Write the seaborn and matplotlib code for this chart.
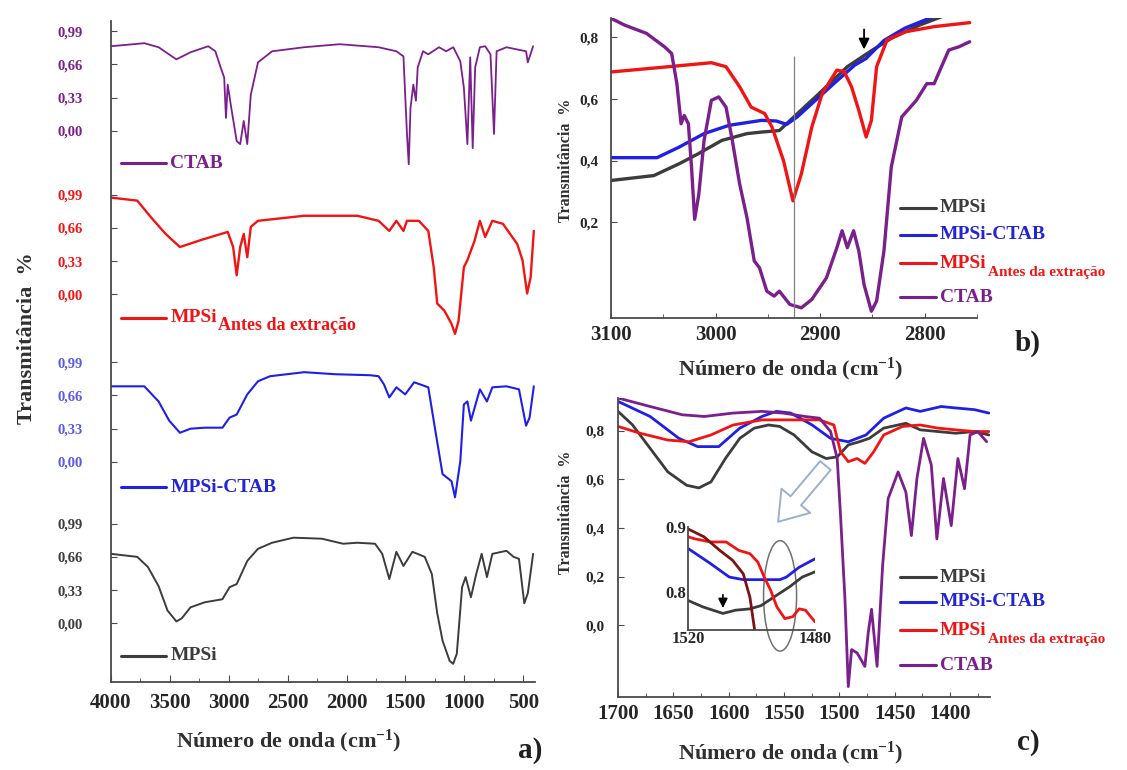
import numpy as np
import matplotlib
matplotlib.use("Agg")
import matplotlib.pyplot as plt
import seaborn as sns
from matplotlib.patches import Ellipse
from matplotlib.ticker import MultipleLocator

# ------------------------------------------------------------
# data (wavenumber in cm-1, transmittance)
# ------------------------------------------------------------

# panel a) full range, one trace per sample
a_mpsi_wn = [4000, 3777, 3687, 3596, 3521, 3445, 3400, 3325, 3204, 3054, 2993, 2933, 2843, 2752, 2632,
             2451, 2210, 2029, 1908, 1758, 1697, 1637, 1577, 1517, 1441, 1336, 1276, 1230, 1185, 1125,
             1095, 1064, 1019, 989, 944, 899, 853, 808, 762, 642, 582, 536, 491, 461, 416]
a_mpsi_t = [0.69, 0.66, 0.56, 0.37, 0.13, 0.02, 0.05, 0.16, 0.21, 0.24, 0.36, 0.39, 0.62, 0.74, 0.80,
            0.85, 0.84, 0.79, 0.80, 0.79, 0.69, 0.44, 0.71, 0.57, 0.71, 0.66, 0.49, 0.10, -0.17, -0.37,
            -0.40, -0.30, 0.36, 0.46, 0.26, 0.49, 0.69, 0.46, 0.69, 0.72, 0.66, 0.64, 0.20, 0.30, 0.69]

a_ctabmpsi_wn = [4000, 3717, 3596, 3506, 3415, 3325, 3204, 3054, 2993, 2933, 2843, 2752, 2650, 2360, 2100,
                 1800, 1728, 1683, 1637, 1577, 1502, 1426, 1306, 1246, 1185, 1109, 1079, 1034, 1004, 974,
                 944, 868, 808, 762, 642, 536, 476, 446, 410]
a_ctabmpsi_t = [0.75, 0.75, 0.60, 0.41, 0.29, 0.33, 0.34, 0.34, 0.44, 0.47, 0.67, 0.80, 0.85, 0.89, 0.87,
                0.86, 0.85, 0.77, 0.64, 0.74, 0.67, 0.79, 0.74, 0.31, -0.12, -0.19, -0.35, 0.01, 0.57, 0.60,
                0.41, 0.72, 0.60, 0.74, 0.75, 0.72, 0.36, 0.44, 0.75]

a_antes_wn = [4000, 3777, 3657, 3536, 3415, 3235, 3009, 2963, 2933, 2903, 2873, 2843, 2813, 2752, 2360,
              1908, 1728, 1637, 1577, 1517, 1487, 1386, 1306, 1260, 1230, 1170, 1109, 1079, 1049, 1004,
              974, 914, 868, 823, 762, 672, 551, 506, 467, 437, 410]
a_antes_t = [0.96, 0.93, 0.76, 0.60, 0.47, 0.54, 0.62, 0.47, 0.19, 0.47, 0.60, 0.37, 0.67, 0.73, 0.78,
             0.78, 0.73, 0.63, 0.73, 0.63, 0.73, 0.73, 0.63, 0.27, -0.09, -0.16, -0.29, -0.39, -0.26, 0.27,
             0.34, 0.53, 0.73, 0.57, 0.73, 0.70, 0.50, 0.34, 0.01, 0.17, 0.63]

a_ctab_wn = [4000, 3717, 3596, 3445, 3325, 3174, 3114, 3069, 3039, 3024, 3009, 2979, 2933, 2903, 2873,
             2843, 2813, 2752, 2632, 2360, 2059, 1728, 1577, 1517, 1487, 1472, 1457, 1433, 1411, 1396,
             1351, 1306, 1215, 1155, 1094, 1034, 1004, 974, 950, 929, 908, 868, 823, 778, 748,
             726, 642, 476, 461, 416]
a_ctab_t = [0.84, 0.87, 0.83, 0.71, 0.78, 0.84, 0.79, 0.63, 0.53, 0.13, 0.46, 0.23, -0.10, -0.13, 0.10,
            -0.13, 0.36, 0.68, 0.79, 0.83, 0.86, 0.83, 0.79, 0.74, -0.03, -0.33, 0.23, 0.46, 0.30, 0.63,
            0.79, 0.76, 0.83, 0.79, 0.83, 0.69, 0.43, -0.13, 0.73, -0.17, 0.63, 0.83, 0.84, 0.76, -0.03,
            0.79, 0.83, 0.79, 0.68, 0.84]

# panel b) C-H stretching region
b_mpsi_wn = [3100, 3059, 3035, 3018, 2994, 2970, 2956, 2939, 2929, 2915, 2901, 2874, 2850, 2832, 2805, 2784, 2775]
b_mpsi_t = [0.336, 0.352, 0.39, 0.42, 0.466, 0.488, 0.493, 0.498, 0.53, 0.574, 0.618, 0.705, 0.759, 0.797,
            0.84, 0.867, 0.88]

b_ctabmpsi_wn = [3100, 3056, 3035, 3011, 2987, 2956, 2942, 2932, 2922, 2908, 2887, 2867, 2856, 2839, 2819, 2784]
b_ctabmpsi_t = [0.41, 0.41, 0.444, 0.488, 0.515, 0.531, 0.529, 0.518, 0.542, 0.585, 0.65, 0.71, 0.732, 0.79,
                0.83, 0.878]

b_antes_wn = [3100, 3045, 3004, 2990, 2977, 2966, 2953, 2946, 2935, 2926, 2918, 2908, 2898, 2884, 2877,
              2870, 2863, 2856, 2851, 2846, 2836, 2819, 2791, 2757]
b_antes_t = [0.688, 0.705, 0.718, 0.705, 0.64, 0.574, 0.553, 0.509, 0.40, 0.27, 0.357, 0.509, 0.618, 0.694,
             0.689, 0.64, 0.563, 0.477, 0.531, 0.705, 0.792, 0.818, 0.835, 0.848]

b_ctab_wn = [3100, 3087, 3066, 3049, 3042, 3037, 3033, 3030, 3026, 3023, 3020, 3016, 3011, 3004, 2997,
             2990, 2984, 2977, 2970, 2963, 2958, 2951, 2944, 2939, 2929, 2918, 2908, 2894, 2884, 2879,
             2874, 2868, 2863, 2858, 2851, 2846, 2839, 2832, 2822, 2808, 2798, 2791, 2784, 2777, 2767, 2757]
b_ctab_t = [0.862, 0.84, 0.813, 0.77, 0.748, 0.65, 0.52, 0.547, 0.52, 0.379, 0.21, 0.292, 0.466, 0.596, 0.607,
            0.574, 0.466, 0.325, 0.216, 0.075, 0.053, -0.023, -0.039, -0.023, -0.066, -0.077, -0.05, 0.02,
            0.118, 0.173, 0.118, 0.173, 0.107, -0.002, -0.088, -0.055, 0.107, 0.379, 0.542, 0.596, 0.65,
            0.65, 0.705, 0.759, 0.77, 0.786]

# panel c) 1700-1365 region
c_mpsi_wn = [1700, 1687, 1671, 1655, 1638, 1627, 1616, 1603, 1590, 1577, 1564, 1554, 1541, 1525, 1512,
             1502, 1492, 1482, 1473, 1460, 1440, 1427, 1411, 1395, 1378, 1365]
c_mpsi_t = [0.88, 0.825, 0.728, 0.631, 0.576, 0.565, 0.59, 0.686, 0.769, 0.811, 0.824, 0.818, 0.783, 0.714,
            0.686, 0.693, 0.742, 0.755, 0.769, 0.811, 0.831, 0.804, 0.797, 0.79, 0.797, 0.783]

c_ctabmpsi_wn = [1700, 1671, 1645, 1628, 1609, 1590, 1570, 1557, 1544, 1525, 1508, 1492, 1476, 1460, 1440,
                 1427, 1408, 1395, 1378, 1365]
c_ctabmpsi_t = [0.921, 0.859, 0.769, 0.735, 0.735, 0.811, 0.859, 0.88, 0.873, 0.825, 0.769, 0.755, 0.783,
                0.852, 0.894, 0.88, 0.9, 0.894, 0.887, 0.873]

c_antes_wn = [1700, 1680, 1655, 1636, 1616, 1596, 1570, 1544, 1518, 1505, 1499, 1492, 1484, 1477, 1469,
              1460, 1443, 1427, 1411, 1395, 1378, 1365]
c_antes_t = [0.818, 0.79, 0.762, 0.755, 0.783, 0.824, 0.845, 0.845, 0.845, 0.824, 0.714, 0.673, 0.686, 0.666,
             0.714, 0.783, 0.818, 0.824, 0.811, 0.804, 0.797, 0.797]

c_ctab_wn = [1700, 1671, 1642, 1622, 1596, 1570, 1551, 1531, 1518, 1508, 1502, 1499, 1495, 1492, 1489,
             1484, 1477, 1474, 1471, 1466, 1461, 1456, 1447, 1440, 1435, 1430, 1424, 1417, 1412, 1406,
             1399, 1393, 1387, 1382, 1375, 1367]
c_ctab_t = [0.935, 0.9, 0.866, 0.859, 0.873, 0.88, 0.873, 0.859, 0.852, 0.797, 0.686, 0.452, 0.107, -0.252,
            -0.1, -0.114, -0.169, -0.031, 0.066, -0.169, 0.245, 0.521, 0.631, 0.548, 0.369, 0.604, 0.769,
            0.659, 0.355, 0.604, 0.41, 0.686, 0.562, 0.783, 0.797, 0.755]

# inset of c) 1520-1480
in_mpsi_wn = [1520, 1515.3, 1509, 1505, 1500.5, 1497, 1493, 1488, 1484, 1480]
in_mpsi_t = [0.787, 0.777, 0.767, 0.772, 0.774, 0.779, 0.792, 0.808, 0.823, 0.831]
in_ctabmpsi_wn = [1520, 1513, 1507, 1502.6, 1497, 1491, 1489, 1485, 1480]
in_ctabmpsi_t = [0.867, 0.844, 0.823, 0.819, 0.819, 0.819, 0.823, 0.838, 0.851]
in_antes_wn = [1520, 1518, 1513, 1508, 1504, 1500.5, 1498, 1496, 1494, 1492, 1489.5, 1487, 1485, 1483, 1480]
in_antes_t = [0.885, 0.882, 0.877, 0.877, 0.864, 0.859, 0.846, 0.823, 0.803, 0.777, 0.759, 0.762, 0.774,
              0.772, 0.754]
in_ctab_wn = [1520, 1515, 1510, 1506, 1502.6, 1500.5, 1499, 1498.3]
in_ctab_t = [0.897, 0.885, 0.864, 0.849, 0.828, 0.792, 0.741, 0.70]

a_tick_values = [0.00, 0.33, 0.66, 0.99]
a_tick_labels = ["0,00", "0,33", "0,66", "0,99"]
b_tick_values = [0.2, 0.4, 0.6, 0.8]
b_tick_labels = ["0,2", "0,4", "0,6", "0,8"]
c_tick_values = [0.0, 0.2, 0.4, 0.6, 0.8]
c_tick_labels = ["0,0", "0,2", "0,4", "0,6", "0,8"]

# ------------------------------------------------------------
# style
# ------------------------------------------------------------
sns.set_style("ticks")
plt.rcParams['font.family'] = ['Liberation Serif', 'DejaVu Serif']
plt.rcParams['font.weight'] = 'bold'
plt.rcParams['mathtext.fontset'] = 'custom'
plt.rcParams['mathtext.rm'] = 'Liberation Serif:bold'
plt.rcParams['mathtext.bf'] = 'Liberation Serif:bold'
plt.rcParams['mathtext.it'] = 'Liberation Serif:bold:italic'
plt.rcParams['mathtext.default'] = 'rm'

BLACK = '#3c3c3c'
BLUE = '#1f1fe6'
RED = '#f01414'
PURPLE = '#7a1f8c'
TXT_BLACK = '#3c3c3c'
TXT_BLUE = '#2323d8'
TICK_BLUE = '#5a5ae6'
SPINE = '#4a4a4a'

# vertical offsets used to stack the traces in panel a
a_offsets = {'mpsi': 0.0, 'ctabmpsi': 1.60, 'antes': 3.26, 'ctab': 4.88}

W, H = 1127, 770
fig = plt.figure(figsize=(W / 100, H / 100), dpi=100)


def box(px_left, px_right, px_top, px_bottom):
    return [px_left / W, 1 - px_bottom / H, (px_right - px_left) / W, (px_bottom - px_top) / H]


ax_a = fig.add_axes(box(111, 535, 21, 682))
ax_b = fig.add_axes(box(611, 977, 18, 318))
ax_c = fig.add_axes(box(618, 990, 398, 697))
ax_in = fig.add_axes(box(688, 815, 527, 630))


def trace(ax, wn, t, color, lw, offset=0.0):
    sns.lineplot(x=wn, y=np.asarray(t) + offset, ax=ax, color=color, lw=lw,
                 estimator=None, sort=False)


def style_axes(ax):
    for s in ['top', 'right']:
        ax.spines[s].set_visible(False)
    for s in ['left', 'bottom']:
        ax.spines[s].set_color(SPINE)
        ax.spines[s].set_linewidth(1.3)
    ax.set_xlabel('')
    ax.set_ylabel('')
    ax.patch.set_alpha(0)


def label(ax, x0, x1, y, name, color, size, sub=None, sub_size=None, trans=None):
    trans = trans or ax.transAxes
    ax.plot([x0, x1], [y, y], transform=trans, color=color, lw=2.2, clip_on=False)
    t = ax.text(x1 + 0.01, y, name, transform=trans, color=color, fontsize=size,
                fontweight='bold', va='center', ha='left', clip_on=False)
    if sub:
        ax.annotate(sub, xy=(1, 0), xycoords=t, xytext=(1, -3), textcoords='offset points',
                    color=color, fontsize=sub_size, fontweight='bold',
                    ha='left', va='baseline', annotation_clip=False)


# ============================================================
# a) full spectra, stacked
# ============================================================
trace(ax_a, a_ctab_wn, a_ctab_t, PURPLE, 1.3, a_offsets['ctab'])
trace(ax_a, a_antes_wn, a_antes_t, RED, 1.7, a_offsets['antes'])
trace(ax_a, a_ctabmpsi_wn, a_ctabmpsi_t, BLUE, 1.5, a_offsets['ctabmpsi'])
trace(ax_a, a_mpsi_wn, a_mpsi_t, BLACK, 1.4, a_offsets['mpsi'])
ax_a.set_xlim(4000, 400)
ax_a.set_ylim(-0.58, 5.97)
style_axes(ax_a)

ticks, labels, colors = [], [], []
for key, col in [('mpsi', TXT_BLACK), ('ctabmpsi', TICK_BLUE), ('antes', RED), ('ctab', PURPLE)]:
    for v, l in zip(a_tick_values, a_tick_labels):
        ticks.append(v + a_offsets[key])
        labels.append(l)
        colors.append(col)
ax_a.set_yticks(ticks)
ax_a.set_yticklabels(labels, fontsize=10.5, fontweight='bold')
for lbl, col in zip(ax_a.get_yticklabels(), colors):
    lbl.set_color(col)
ax_a.set_xticks([4000, 3500, 3000, 2500, 2000, 1500, 1000, 500])
ax_a.xaxis.set_minor_locator(MultipleLocator(250))
ax_a.tick_params(axis='y', direction='in', length=4, pad=20, color=SPINE)
ax_a.tick_params(axis='x', which='both', direction='in', pad=8, labelsize=15, color=SPINE)
ax_a.tick_params(axis='x', which='major', length=5)
ax_a.tick_params(axis='x', which='minor', length=3)

ya = ax_a.get_yaxis_transform()
label(ax_a, 0.024, 0.13, 4.56, 'CTAB', PURPLE, 14, trans=ya)
label(ax_a, 0.024, 0.13, 3.03, 'MPSi', RED, 14, sub='Antes da extração', sub_size=13, trans=ya)
label(ax_a, 0.024, 0.13, 1.35, 'MPSi-CTAB', TXT_BLUE, 14, trans=ya)
label(ax_a, 0.024, 0.13, -0.32, 'MPSi', TXT_BLACK, 14, trans=ya)

# ============================================================
# b) 3100-2750 cm-1
# ============================================================
trace(ax_b, b_mpsi_wn, b_mpsi_t, BLACK, 2.4)
trace(ax_b, b_ctabmpsi_wn, b_ctabmpsi_t, BLUE, 2.4)
trace(ax_b, b_antes_wn, b_antes_t, RED, 2.4)
trace(ax_b, b_ctab_wn, b_ctab_t, PURPLE, 2.4)
ax_b.set_xlim(3100, 2750)
ax_b.set_ylim(-0.11, 0.863)
style_axes(ax_b)
ax_b.vlines(2925, -0.11, 0.74, color='#808080', lw=0.9)
ax_b.annotate('', xy=(2858, 0.752), xytext=(2858, 0.835),
              arrowprops=dict(arrowstyle='-|>', color='black', lw=1.3, mutation_scale=16))
ax_b.set_yticks(b_tick_values)
ax_b.set_yticklabels(b_tick_labels, fontsize=11, fontweight='bold')
ax_b.set_xticks([3100, 3000, 2900, 2800])
ax_b.xaxis.set_minor_locator(MultipleLocator(50))
ax_b.tick_params(axis='y', direction='in', length=4, pad=9, color=SPINE)
ax_b.tick_params(axis='x', which='both', direction='in', pad=5, labelsize=15, color=SPINE)
ax_b.tick_params(axis='x', which='minor', length=3)

label(ax_b, 0.79, 0.888, 0.367, 'MPSi', TXT_BLACK, 14)
label(ax_b, 0.79, 0.888, 0.277, 'MPSi-CTAB', TXT_BLUE, 14)
label(ax_b, 0.79, 0.888, 0.183, 'MPSi', RED, 14, sub='Antes da extração', sub_size=11)
label(ax_b, 0.79, 0.888, 0.070, 'CTAB', PURPLE, 14)

# ============================================================
# c) 1700-1365 cm-1 with zoomed inset
# ============================================================
trace(ax_c, c_mpsi_wn, c_mpsi_t, BLACK, 2.0)
trace(ax_c, c_ctabmpsi_wn, c_ctabmpsi_t, BLUE, 2.0)
trace(ax_c, c_antes_wn, c_antes_t, RED, 2.0)
trace(ax_c, c_ctab_wn, c_ctab_t, PURPLE, 2.0)
ax_c.set_xlim(1700, 1364)
ax_c.set_ylim(-0.295, 0.935)
style_axes(ax_c)
ax_c.set_yticks(c_tick_values)
ax_c.set_yticklabels(c_tick_labels, fontsize=11, fontweight='bold')
ax_c.set_xticks([1700, 1650, 1600, 1550, 1500, 1450, 1400])
ax_c.xaxis.set_minor_locator(MultipleLocator(25))
ax_c.tick_params(axis='y', direction='in', length=4, pad=10, color=SPINE)
ax_c.tick_params(axis='x', which='both', direction='in', pad=5, labelsize=15, color=SPINE)
ax_c.tick_params(axis='x', which='minor', length=3)
ax_c.annotate('', xy=(1557, 0.417), xytext=(1511, 0.666),
              arrowprops=dict(arrowstyle='simple,head_length=1.1,head_width=1.5,tail_width=0.55',
                              fc='white', ec='#9ab0cf', lw=1.4, mutation_scale=18))

label(ax_c, 0.758, 0.855, 0.401, 'MPSi', TXT_BLACK, 14)
label(ax_c, 0.758, 0.855, 0.318, 'MPSi-CTAB', TXT_BLUE, 14)
label(ax_c, 0.758, 0.855, 0.224, 'MPSi', RED, 14, sub='Antes da extração', sub_size=11)
label(ax_c, 0.758, 0.855, 0.107, 'CTAB', PURPLE, 14)

trace(ax_in, in_mpsi_wn, in_mpsi_t, BLACK, 2.0)
trace(ax_in, in_ctabmpsi_wn, in_ctabmpsi_t, BLUE, 2.0)
trace(ax_in, in_antes_wn, in_antes_t, RED, 2.0)
trace(ax_in, in_ctab_wn, in_ctab_t, '#7a1414', 2.0)
ax_in.set_xlim(1520, 1480)
ax_in.set_ylim(0.7415, 0.9)
style_axes(ax_in)
ax_in.patch.set_alpha(1)
ax_in.patch.set_facecolor('white')
ax_in.set_yticks([0.8, 0.9])
ax_in.set_yticklabels(['0.8', '0.9'], fontsize=12, fontweight='bold')
ax_in.set_xticks([1520, 1480])
ax_in.set_xticklabels(['1520', '1480'], fontsize=12, fontweight='bold')
ax_in.tick_params(length=0, pad=1)
ax_in.add_patch(Ellipse((1491, 0.794), 10.4, 0.17, fill=False, ec='#707070', lw=1.1, clip_on=False))
ax_in.annotate('', xy=(1509, 0.771), xytext=(1509, 0.80),
               arrowprops=dict(arrowstyle='-|>', color='black', lw=1.2, mutation_scale=14))

# ============================================================
# axis titles and panel letters
# ============================================================
xl = 'Número de onda (cm$^{-1}$)'
fig.text(289 / W, 1 - 741 / H, xl, fontsize=16, ha='center', va='center', color='#303030')
fig.text(791 / W, 1 - 369 / H, xl, fontsize=16, ha='center', va='center', color='#303030')
fig.text(791 / W, 1 - 753 / H, xl, fontsize=16, ha='center', va='center', color='#303030')

fig.text(27 / W, 1 - 338 / H, 'Transmitância  %', fontsize=16, rotation=90,
         ha='center', va='center', color='#303030')
fig.text(566 / W, 1 - 160 / H, 'Transmitância  %', fontsize=11.5, rotation=90,
         ha='center', va='center', color='#303030')
fig.text(566 / W, 1 - 512 / H, 'Transmitância  %', fontsize=11.5, rotation=90,
         ha='center', va='center', color='#303030')

fig.text(530 / W, 1 - 751 / H, 'a)', fontsize=21, ha='center', va='center', color='#202020')
fig.text(1028 / W, 1 - 343 / H, 'b)', fontsize=21, ha='center', va='center', color='#202020')
fig.text(1028 / W, 1 - 742 / H, 'c)', fontsize=21, ha='center', va='center', color='#202020')

fig.savefig('out.png', dpi=100)
